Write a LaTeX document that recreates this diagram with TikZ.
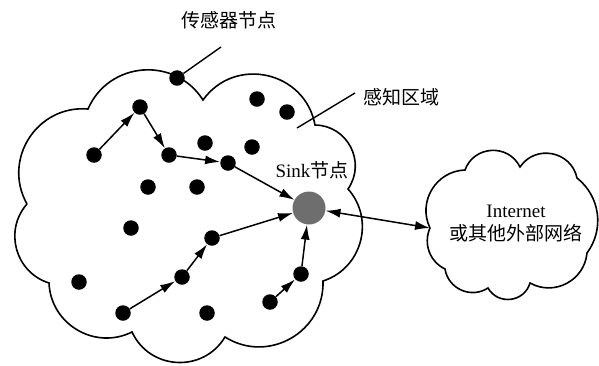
\documentclass[tikz,border=0pt]{standalone}
\usepackage{fontspec}
\setmainfont{Liberation Serif}
\newfontfamily\cjk{Noto Sans CJK SC}
\usetikzlibrary{arrows.meta,calc}
\definecolor{sinkgray}{RGB}{110,110,110}
\begin{document}
\begin{tikzpicture}[x=1pt,y=1pt,
  dot/.style={circle,fill=black,inner sep=0pt,minimum size=15.5pt},
  sinknode/.style={circle,fill=sinkgray,inner sep=0pt,minimum size=33pt},
  flow/.style={line width=1.5pt,-{Latex[length=15pt,width=9pt]}},
  dflow/.style={line width=1.5pt,{Latex[length=15pt,width=9pt]}-{Latex[length=15pt,width=9pt]}},
  outline/.style={line width=1.6pt,line join=miter},
  leader/.style={line width=1.4pt},
  lbl/.style={font=\fontsize{19}{23}\selectfont,inner sep=0pt},
  bA/.style={bend left=44,looseness=1.0},
  bB/.style={bend left=57,looseness=1.1},
  bC/.style={bend left=62,looseness=1.16},
  bD/.style={bend left=67,looseness=1.22}]
\useasboundingbox (0,0) rectangle (599,-365);

% sensing area cloud
\draw[outline] (27,-204) to[bC] (88,-109) to[bC] (203,-100) to[bD] (315,-125)
  to[bC] (348,-189) to[bB] (323,-281) to[bC] (225,-337) to[bC] (132,-332)
  to[bB] (49,-283) to[bB] (27,-204);

% external network cloud
\draw[outline] (430,-228) to[bB] (465,-170) to[bD] (520,-167) to[bD] (577,-178)
  to[bA] (587,-253) to[bB] (530,-283) to[bD] (488,-288) to[bB] (445,-269)
  to[bA] (430,-228);
\coordinate (net) at (430,-228);

% nodes
\node[dot] (A) at (177,-78) {};
\node[dot] (B) at (140,-107) {};
\node[dot] (C) at (94,-155) {};
\node[dot] (D) at (169,-155) {};
\node[dot] (E) at (228,-163) {};
\node[dot] (F) at (205,-143) {};
\node[dot] (G) at (252,-147) {};
\node[dot] (T1) at (257,-99) {};
\node[dot] (T2) at (287,-112) {};
\node[dot] (H) at (148,-187) {};
\node[dot] (I) at (197,-187) {};
\node[dot] (J) at (131,-228) {};
\node[dot] (K) at (79,-282) {};
\node[dot] (L) at (123,-313) {};
\node[dot] (M) at (182,-277) {};
\node[dot] (N) at (212,-238) {};
\node[dot] (O) at (207,-313) {};
\node[dot] (P) at (270,-302) {};
\node[dot] (Q) at (301,-274) {};
\node[sinknode] (sink) at (309,-208) {};

% routes
\draw[flow] (C) -- (B);
\draw[flow] (B) -- (D);
\draw[flow] (D) -- (E);
\draw[flow] (E) -- (sink);
\draw[flow] (L) -- (M);
\draw[flow] (M) -- (N);
\draw[flow] (N) -- (sink);
\draw[flow] (P) -- (Q);
\draw[flow] (Q) -- (sink);
\draw[dflow] (sink) -- (net);

% labels
\node[lbl] (lsensor) at (229,-20) {\cjk 传感器节点};
\coordinate (aend) at (221,-47);
\draw[leader] (A) -- (aend);
\node[lbl] (lregion) at (401,-97) {\cjk 感知区域};
\coordinate (r1) at (297,-128);
\coordinate (r2) at (355,-93);
\draw[leader] (r1) -- (r2);
\node[lbl] (lsink) at (312,-170) {Sink\cjk 节点};
\node[lbl,align=center] (lnet) at (516,-223.5) {Internet\\\cjk 或其他外部网络};
\end{tikzpicture}
\end{document}
